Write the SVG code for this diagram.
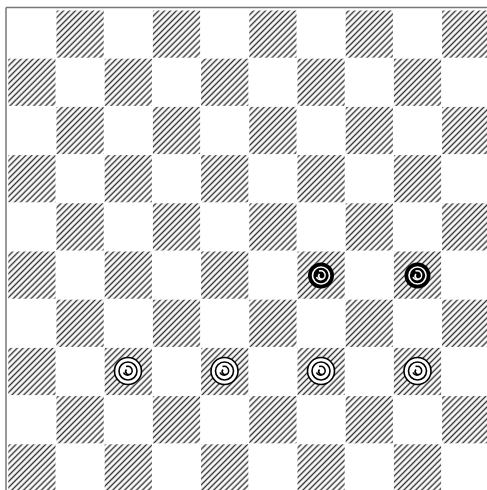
<svg xmlns="http://www.w3.org/2000/svg" xmlns:xlink="http://www.w3.org/1999/xlink" width="487" height="490" viewBox="0 0 487 490">
<defs>
<pattern id="hatch" patternUnits="userSpaceOnUse" width="4.2" height="4.2" patternTransform="rotate(45)">
<line x1="2.1" y1="-1" x2="2.1" y2="5.2" stroke="#333" stroke-width="1.4"/>
</pattern>
<g id="blackPiece">
<circle r="13" fill="#000"/>
<circle r="8.5" fill="none" stroke="#fff" stroke-width="1.6"/>
<path d="M -2 -4.5 A 4.5 4.5 0 1 1 -4.5 1.5 M 3 2.5 A 3 3 0 0 1 -1.5 -1.5" fill="none" stroke="#fff" stroke-width="1.6"/>
</g>
<g id="whitePiece">
<circle r="13.5" fill="#fff" stroke="#000" stroke-width="1.6"/>
<circle r="9" fill="none" stroke="#000" stroke-width="1.6"/>
<path d="M -2 -4.5 A 4.5 4.5 0 1 1 -4.5 1.5 M 3 2.5 A 3 3 0 0 1 -1.5 -1.5" fill="none" stroke="#000" stroke-width="1.6"/>
</g>
</defs>
<style>
.dark{fill:url(#hatch);}
</style>
<rect x="0" y="0" width="487" height="490" fill="#fff"/>
<g id="board">
<line x1="6" y1="7.5" x2="6" y2="490" stroke="#777" stroke-width="1.5"/>
<line x1="6" y1="7.5" x2="487" y2="7.5" stroke="#777" stroke-width="1.5"/>
<g class="dark">
<rect x="56.5" y="10.5" width="47.2" height="47.2"/>
<rect x="152.9" y="10.5" width="47.2" height="47.2"/>
<rect x="249.3" y="10.5" width="47.2" height="47.2"/>
<rect x="345.7" y="10.5" width="47.2" height="47.2"/>
<rect x="442.1" y="10.5" width="47.2" height="47.2"/>
<rect x="8.3" y="58.7" width="47.2" height="47.2"/>
<rect x="104.7" y="58.7" width="47.2" height="47.2"/>
<rect x="201.1" y="58.7" width="47.2" height="47.2"/>
<rect x="297.5" y="58.7" width="47.2" height="47.2"/>
<rect x="393.9" y="58.7" width="47.2" height="47.2"/>
<rect x="56.5" y="106.9" width="47.2" height="47.2"/>
<rect x="152.9" y="106.9" width="47.2" height="47.2"/>
<rect x="249.3" y="106.9" width="47.2" height="47.2"/>
<rect x="345.7" y="106.9" width="47.2" height="47.2"/>
<rect x="442.1" y="106.9" width="47.2" height="47.2"/>
<rect x="8.3" y="155.1" width="47.2" height="47.2"/>
<rect x="104.7" y="155.1" width="47.2" height="47.2"/>
<rect x="201.1" y="155.1" width="47.2" height="47.2"/>
<rect x="297.5" y="155.1" width="47.2" height="47.2"/>
<rect x="393.9" y="155.1" width="47.2" height="47.2"/>
<rect x="56.5" y="203.3" width="47.2" height="47.2"/>
<rect x="152.9" y="203.3" width="47.2" height="47.2"/>
<rect x="249.3" y="203.3" width="47.2" height="47.2"/>
<rect x="345.7" y="203.3" width="47.2" height="47.2"/>
<rect x="442.1" y="203.3" width="47.2" height="47.2"/>
<rect x="8.3" y="251.5" width="47.2" height="47.2"/>
<rect x="104.7" y="251.5" width="47.2" height="47.2"/>
<rect x="201.1" y="251.5" width="47.2" height="47.2"/>
<rect x="297.5" y="251.5" width="47.2" height="47.2"/>
<rect x="393.9" y="251.5" width="47.2" height="47.2"/>
<rect x="56.5" y="299.7" width="47.2" height="47.2"/>
<rect x="152.9" y="299.7" width="47.2" height="47.2"/>
<rect x="249.3" y="299.7" width="47.2" height="47.2"/>
<rect x="345.7" y="299.7" width="47.2" height="47.2"/>
<rect x="442.1" y="299.7" width="47.2" height="47.2"/>
<rect x="8.3" y="347.9" width="47.2" height="47.2"/>
<rect x="104.7" y="347.9" width="47.2" height="47.2"/>
<rect x="201.1" y="347.9" width="47.2" height="47.2"/>
<rect x="297.5" y="347.9" width="47.2" height="47.2"/>
<rect x="393.9" y="347.9" width="47.2" height="47.2"/>
<rect x="56.5" y="396.1" width="47.2" height="47.2"/>
<rect x="152.9" y="396.1" width="47.2" height="47.2"/>
<rect x="249.3" y="396.1" width="47.2" height="47.2"/>
<rect x="345.7" y="396.1" width="47.2" height="47.2"/>
<rect x="442.1" y="396.1" width="47.2" height="47.2"/>
<rect x="8.3" y="444.3" width="47.2" height="47.2"/>
<rect x="104.7" y="444.3" width="47.2" height="47.2"/>
<rect x="201.1" y="444.3" width="47.2" height="47.2"/>
<rect x="297.5" y="444.3" width="47.2" height="47.2"/>
<rect x="393.9" y="444.3" width="47.2" height="47.2"/>
</g>
</g>
<g id="piece-b1"><use xlink:href="#blackPiece" x="321" y="275.5"/></g>
<g id="piece-b2"><use xlink:href="#blackPiece" x="417.5" y="275.5"/></g>
<g id="piece-w1"><use xlink:href="#whitePiece" x="128" y="371"/></g>
<g id="piece-w2"><use xlink:href="#whitePiece" x="224.5" y="371"/></g>
<g id="piece-w3"><use xlink:href="#whitePiece" x="321" y="371"/></g>
<g id="piece-w4"><use xlink:href="#whitePiece" x="417.5" y="371"/></g>
</svg>
